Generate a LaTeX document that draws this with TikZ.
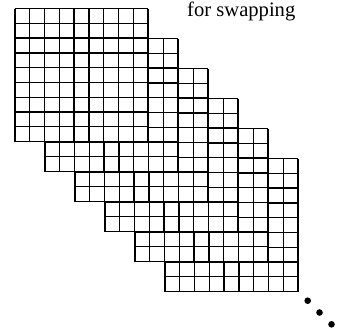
\documentclass[tikz,border=0pt]{standalone}
\usepackage{fontspec}
\setmainfont{Liberation Serif}
\begin{document}
\begin{tikzpicture}[x=1pt,y=-1pt,
  gridline/.style={line width=1.35pt, black},
  dotmark/.style={fill=black}]
\useasboundingbox (0,0) rectangle (344,332);
\foreach \k in {5,4,...,0}{
  \begin{scope}[shift={(15+30*\k,8.5+30*\k)}]
    \fill[white] (0,0) rectangle (133,133);
    \foreach \i in {0,...,9}{
      \draw[gridline] (\i*14.78,0) -- (\i*14.78,133);
      \draw[gridline] (0,\i*14.78) -- (133,\i*14.78);
    }
  \end{scope}
}
\node[font=\fontsize{20.6}{24}\selectfont, anchor=base west, inner sep=0pt] (label) at (187,16) {for swapping};
\fill[dotmark] (307.7,300.7) circle[radius=3.3pt];
\fill[dotmark] (319.5,312.5) circle[radius=3.3pt];
\fill[dotmark] (331.5,324.3) circle[radius=3.3pt];
\end{tikzpicture}
\end{document}
